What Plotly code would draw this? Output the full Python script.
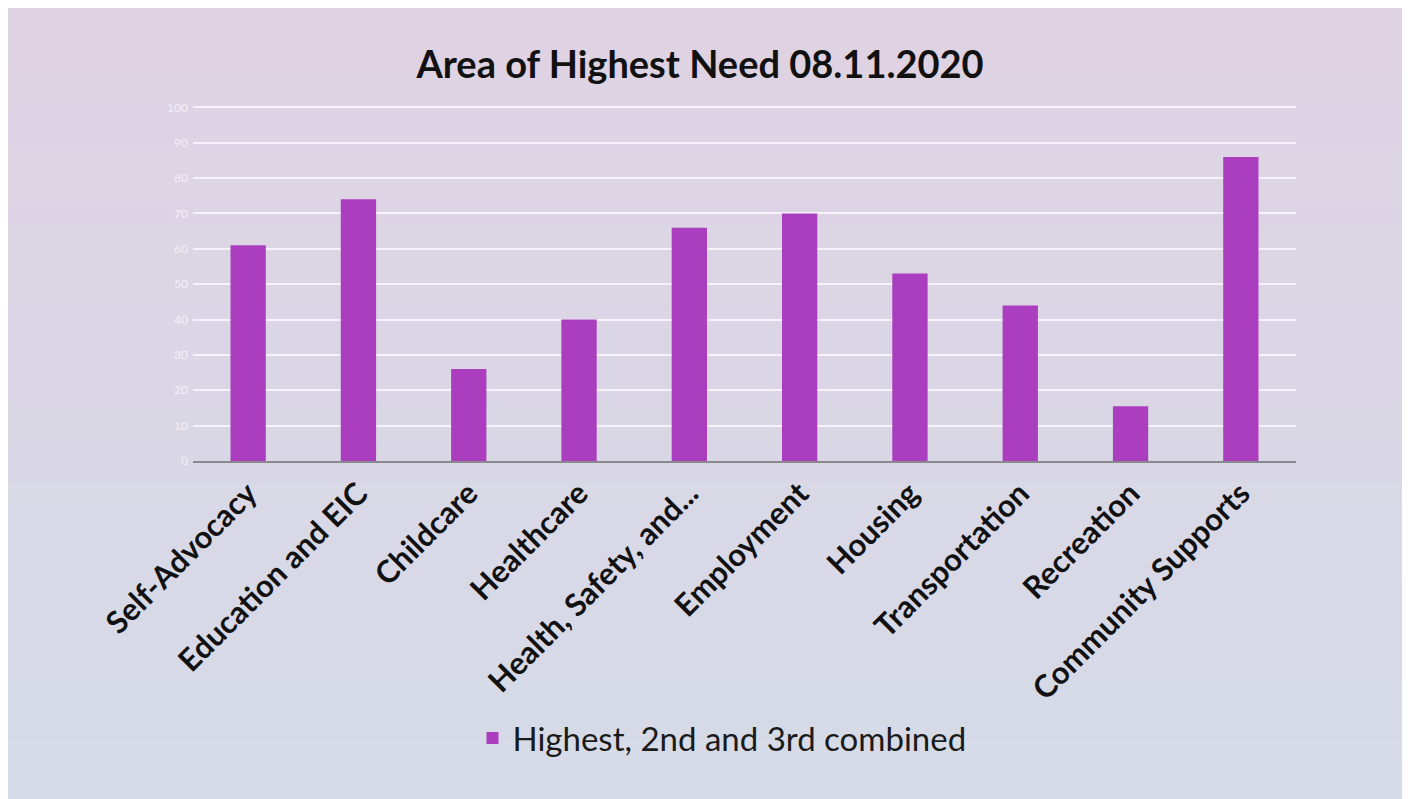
import plotly.graph_objects as go

categories = ["Self-Advocacy", "Education and EIC", "Childcare", "Healthcare",
              "Health, Safety, and...", "Employment", "Housing", "Transportation",
              "Recreation", "Community Supports"]
values = [61, 74, 26, 40, 66, 70, 53, 44, 15.5, 86]
series_name = "Highest, 2nd and 3rd combined"
y_ticks = list(range(0, 101, 10))

OFF = 8  # page body margin
W, H = 1410 - OFF, 799 - OFF
L = 193 - OFF
T = 106 - OFF
R = W - (1296 - OFF)
B = H - (461 - OFF)
pw, ph = W - L - R, H - T - B

def px_to_paper_x(px):
    return (px - OFF - L) / pw

def px_to_paper_y(py):
    return (H - B - (py - OFF)) / ph

fig = go.Figure()
fig.add_trace(go.Bar(
    x=categories, y=values, name=series_name,
    marker=dict(color="#ab3dbf", line=dict(width=0)),
    showlegend=True,
))

# background gradient bands (decoration)
top = (0xdf, 0xd2, 0xe3)
bot = (0xd5, 0xdb, 0xe7)
n = 40
shapes = []
for i in range(n):
    t = i / (n - 1)
    c = tuple(round(top[k] + (bot[k] - top[k]) * t) for k in range(3))
    ya = OFF + (H) * i / n
    yb = OFF + (H) * (i + 1) / n + 1
    shapes.append(dict(type="rect", xref="paper", yref="paper", layer="below",
                       x0=px_to_paper_x(OFF), x1=px_to_paper_x(1410 + 2),
                       y0=px_to_paper_y(yb), y1=px_to_paper_y(ya),
                       fillcolor="rgb(%d,%d,%d)" % c, line=dict(width=0)))

fig.update_layout(
    width=W, height=H,
    margin=dict(l=L, r=R, t=T, b=B),
    paper_bgcolor="white",
    plot_bgcolor="rgba(0,0,0,0)",
    shapes=shapes,
    bargap=0.68,
    title=dict(text="<b>Area of Highest Need 08.11.2020</b>",
               x=(700 - OFF) / W, xanchor="center", xref="container",
               y=1 - (65 - OFF) / H, yanchor="middle", yref="container",
               font=dict(family="Lato", size=38, color="#111111")),
    xaxis=dict(tickangle=-45, showgrid=False, zeroline=False,
               showline=True, linecolor="#8a8a8e", linewidth=2,
               ticks="", tickfont=dict(family="Lato", size=31, color="#111111", weight="bold")),
    yaxis=dict(range=[0, 100.4], tickvals=y_ticks, showgrid=True,
               gridcolor="rgba(247,243,250,0.95)", gridwidth=2, zeroline=False,
               showline=False, ticks="", ticklabelstandoff=4,
               tickfont=dict(family="Lato", size=12, color="#f3eff6")),
    legend=dict(orientation="h", x=px_to_paper_x(722), xanchor="center",
                y=px_to_paper_y(738), yanchor="middle",
                bgcolor="rgba(0,0,0,0)",
                font=dict(family="Lato", size=33, color="#1a1a1a")),
)

fig.write_html("out.html")
